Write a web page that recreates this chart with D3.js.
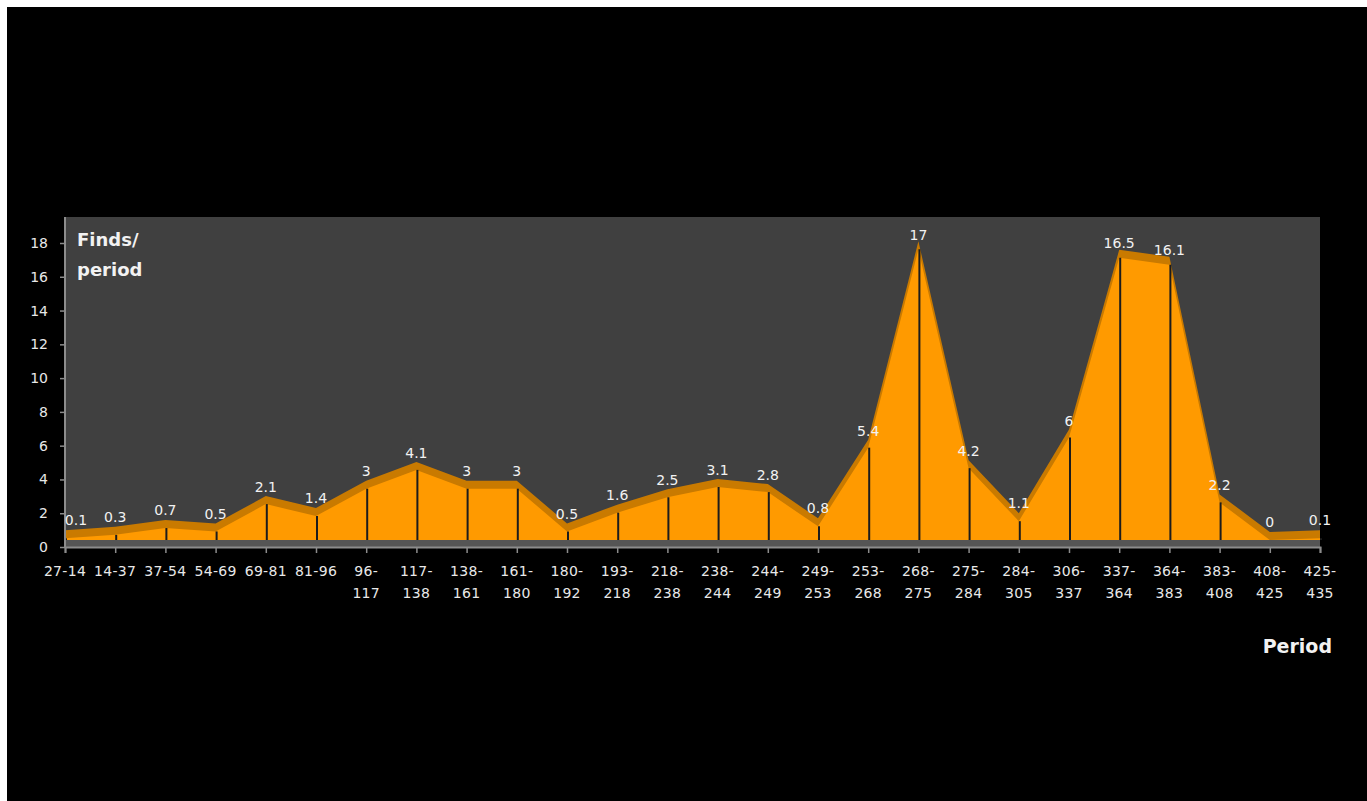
<!DOCTYPE html>
<html><head><meta charset="utf-8">
<script src="https://cdn.jsdelivr.net/npm/d3@7"></script>
<style>html,body{margin:0;padding:0;background:#fff;overflow:hidden}</style>
</head><body><svg id="c" width="1367" height="801"></svg>
<script>
const categories = ["27-14","14-37","37-54","54-69","69-81","81-96","96-117","117-138","138-161","161-180","180-192","193-218","218-238","238-244","244-249","249-253","253-268","268-275","275-284","284-305","306-337","337-364","364-383","383-408","408-425","425-435"];
const values = [0.1,0.3,0.7,0.5,2.1,1.4,3,4.1,3,3,0.5,1.6,2.5,3.1,2.8,0.8,5.4,17,4.2,1.1,6,16.5,16.1,2.2,0,0.1];
const yTicks = [0,2,4,6,8,10,12,14,16,18];
const yTitleLines = ["Finds/","period"];
const xTitle = "Period";

const data = categories.map((c,i)=>({c, v: values[i]}));
const svg = d3.select("#c");
const L = 65, R = 1320, T = 217, B = 547, base = 540, depth = 8;

svg.append("rect").attr("x",7).attr("y",7).attr("width",1360).attr("height",794).attr("fill","#000");
svg.append("rect").attr("x",L).attr("y",T).attr("width",R-L).attr("height",B-T).attr("fill","#404040");
svg.append("rect").attr("x",L).attr("y",base).attr("width",R-L).attr("height",B-base).attr("fill","#555555");

const x = d3.scalePoint().domain(categories).range([L, R]);
const y = d3.scaleLinear().domain([0,18]).range([B, 243]);
const yF = d3.scaleLinear().domain([0,18]).range([base, base - 18*17.1]);

const backArea = d3.area().x(d=>x(d.c)).y0(base).y1(d=>yF(d.v)-depth);
const frontArea = d3.area().x(d=>x(d.c)).y0(base).y1(d=>yF(d.v));
svg.append("path").datum(data).attr("d",backArea).attr("fill","#c97a00");
svg.append("path").datum(data).attr("d",frontArea).attr("fill","#ff9a00");

svg.append("g").selectAll("line").data(data).join("line")
  .attr("x1",d=>x(d.c)+1).attr("x2",d=>x(d.c)+1)
  .attr("y1",base).attr("y2",d=>yF(d.v))
  .attr("stroke","#1c1c1c").attr("stroke-width",2);

const fontTick = "'DejaVu Sans', sans-serif";

// y axis
const ya = svg.append("g").attr("transform",`translate(${L},0)`)
  .call(d3.axisLeft(y).tickValues(yTicks).tickSize(5).tickPadding(12).tickFormat(d3.format("d")));
ya.select(".domain").attr("stroke","#8c8c8c").attr("stroke-width",2).attr("d",`M0,${T}V${B}`);
ya.selectAll(".tick line").attr("stroke","#8c8c8c").attr("stroke-width",1.5);
ya.selectAll(".tick text").attr("fill","#e8e8e8").style("font-family",fontTick).style("font-size","14px");

// x axis
const xa = svg.append("g").attr("transform",`translate(0,${B})`)
  .call(d3.axisBottom(x).tickSize(6).tickFormat(""));
xa.select(".domain").attr("stroke","#8c8c8c").attr("stroke-width",2);
xa.selectAll(".tick line").attr("stroke","#8c8c8c").attr("stroke-width",1.5);

const xl = svg.append("g").selectAll("text").data(categories).join("text")
  .attr("x",d=>x(d)).attr("y",B+29).attr("text-anchor","middle")
  .attr("fill","#e8e8e8").style("font-family",fontTick).style("font-size","14px").style("letter-spacing","0.3px");
xl.each(function(d){
  const t = d3.select(this);
  if (d.length > 5) {
    const k = d.indexOf("-");
    t.append("tspan").attr("x",x(d)).attr("dy",0).text(d.slice(0,k+1));
    t.append("tspan").attr("x",x(d)).attr("dy",22).text(d.slice(k+1));
  } else t.text(d);
});

// data labels
svg.append("g").selectAll("text").data(data).join("text")
  .attr("x",d=>Math.max(x(d.c), L+11)).attr("y",d=>y(d.v)-20)
  .attr("text-anchor","middle").attr("fill","#f2f2f2")
  .style("font-family",fontTick).style("font-size","14px")
  .text(d=>d.v);

// titles
const yt = svg.append("text").attr("x",77).attr("y",246).attr("fill","#f2f2f2")
  .style("font-family",fontTick).style("font-weight","bold").style("font-size","18px");
yTitleLines.forEach((s,i)=>yt.append("tspan").attr("x",77).attr("dy",i?30:0).text(s));
svg.append("text").attr("x",1332).attr("y",653).attr("text-anchor","end").attr("fill","#f2f2f2")
  .style("font-family",fontTick).style("font-weight","bold").style("font-size","19px").text(xTitle);
</script></body></html>
